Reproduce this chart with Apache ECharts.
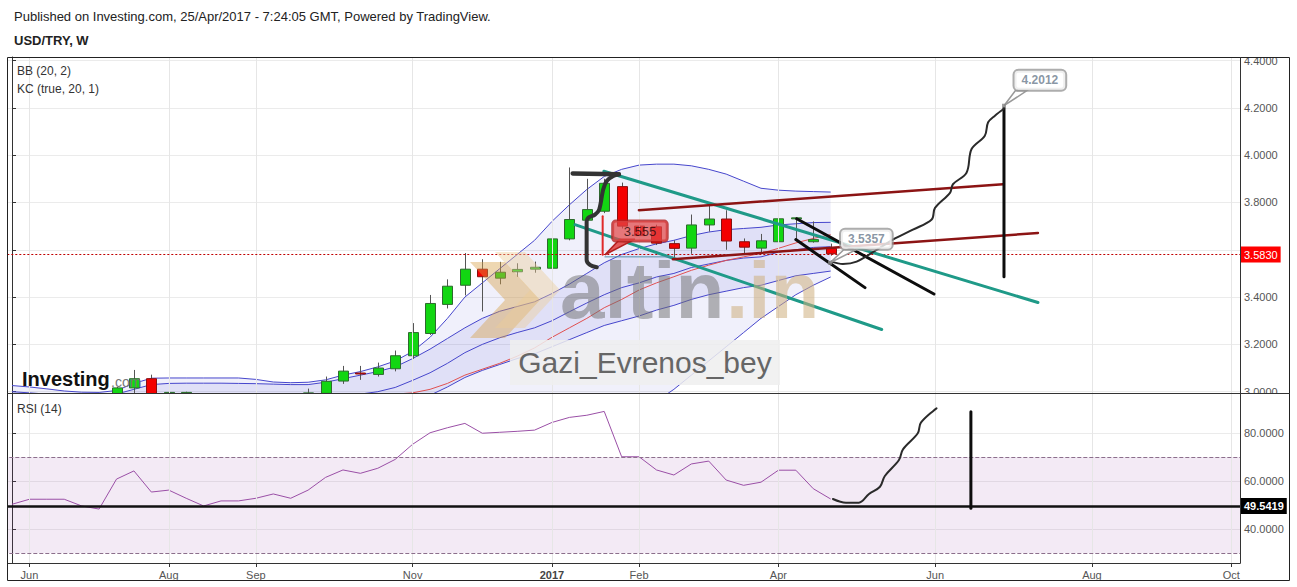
<!DOCTYPE html>
<html><head><meta charset="utf-8">
<script src="https://cdn.jsdelivr.net/npm/echarts@6/dist/echarts.min.js"></script>
<style>html,body{margin:0;padding:0;background:#fff;}#c{width:1297px;height:587px;}</style>
</head><body><div id="c"></div>
<script>
// ---------- categories (weekly bars) ----------
const weeks = ['2016-05-30','2016-06-06','2016-06-13','2016-06-20','2016-06-27','2016-07-04','2016-07-11','2016-07-18','2016-07-25',
'2016-08-01','2016-08-08','2016-08-15','2016-08-22','2016-08-29','2016-09-05','2016-09-12','2016-09-19','2016-09-26',
'2016-10-03','2016-10-10','2016-10-17','2016-10-24','2016-10-31','2016-11-07','2016-11-14','2016-11-21','2016-11-28',
'2016-12-05','2016-12-12','2016-12-19','2016-12-26','2017-01-02','2017-01-09','2017-01-16','2017-01-23','2017-01-30',
'2017-02-06','2017-02-13','2017-02-20','2017-02-27','2017-03-06','2017-03-13','2017-03-20','2017-03-27','2017-04-03',
'2017-04-10','2017-04-17','2017-04-24','2017-05-01','2017-05-08','2017-05-15','2017-05-22','2017-05-29','2017-06-05',
'2017-06-12','2017-06-19','2017-06-26','2017-07-03','2017-07-10','2017-07-17','2017-07-24','2017-07-31','2017-08-07',
'2017-08-14','2017-08-21','2017-08-28','2017-09-04','2017-09-11','2017-09-18','2017-09-25','2017-10-02'];
const monthLabels = {'2016-06-06':'Jun','2016-08-01':'Aug','2016-09-05':'Sep','2016-11-07':'Nov','2017-01-02':'2017',
'2017-02-06':'Feb','2017-04-03':'Apr','2017-06-05':'Jun','2017-08-07':'Aug','2017-10-02':'Oct'};
const priceTicks = [3.0,3.2,3.4,3.6,3.8,4.0,4.2,4.4];
const priceLabels = [3.0,3.2,3.4,3.8,4.0,4.2,4.4];   // 3.6000 sits under the last-price tag
const rsiTicks = [40,60,80];

// ---------- USD/TRY weekly OHLC ----------
const open  = [2.955,2.935,2.93,2.92,2.885,2.89,2.905,3.016,3.055,2.975,2.99,2.99,2.96,2.97,2.95,2.96,2.975,2.97,2.993,3.045,3.079,3.073,3.097,3.152,3.246,3.369,3.45,3.518,3.48,3.507,3.518,3.522,3.646,3.725,3.763,3.867,3.70,3.697,3.626,3.607,3.705,3.73,3.634,3.607,3.634,3.731,3.634,3.606];
const close = [2.935,2.93,2.92,2.885,2.885,2.905,3.016,3.055,2.975,2.997,2.997,2.96,2.97,2.95,2.96,2.975,2.97,2.995,3.044,3.087,3.076,3.10,3.152,3.25,3.373,3.446,3.518,3.486,3.505,3.517,3.526,3.646,3.728,3.77,3.881,3.70,3.66,3.628,3.606,3.705,3.73,3.637,3.611,3.638,3.731,3.735,3.643,3.583];
const low   = [2.915,2.90,2.89,2.87,2.86,2.87,2.87,2.98,2.96,2.96,2.95,2.95,2.94,2.94,2.93,2.94,2.95,2.96,2.98,3.033,3.05,3.064,3.086,3.139,3.24,3.352,3.407,3.339,3.454,3.486,3.503,3.518,3.64,3.72,3.755,3.69,3.64,3.62,3.56,3.583,3.677,3.60,3.586,3.589,3.626,3.643,3.63,3.575];
const high  = [2.965,2.96,2.945,2.95,2.92,2.93,3.02,3.092,3.072,3.026,3.0,2.99,2.985,2.98,2.975,2.985,2.99,3.013,3.064,3.109,3.109,3.123,3.174,3.29,3.409,3.475,3.586,3.56,3.549,3.543,3.55,3.65,3.948,3.90,3.90,3.884,3.77,3.706,3.64,3.749,3.794,3.767,3.648,3.667,3.749,3.737,3.72,3.626];
const lastPrice = 3.583;

// ---------- Bollinger (20,2) & Keltner (20,1) lines ----------
const bbUpper = [3.026,3.02,3.012,3.003,2.998,2.997,3.005,3.035,3.057,3.058,3.058,3.058,3.058,3.058,3.052,3.041,3.038,3.04,3.05,3.07,3.085,3.105,3.13,3.17,3.23,3.31,3.40,3.46,3.52,3.58,3.64,3.72,3.79,3.855,3.91,3.94,3.958,3.962,3.962,3.955,3.94,3.92,3.89,3.86,3.852,3.848,3.846,3.844];
const bbLower = [2.88,2.875,2.87,2.865,2.86,2.86,2.86,2.85,2.84,2.845,2.85,2.86,2.87,2.88,2.885,2.89,2.9,2.905,2.9,2.89,2.88,2.87,2.85,2.82,2.79,2.76,2.74,2.73,2.72,2.72,2.73,2.74,2.75,2.77,2.80,2.84,2.90,2.96,3.01,3.07,3.13,3.19,3.25,3.31,3.36,3.41,3.45,3.485];
const bbBasis = [2.953,2.948,2.941,2.934,2.929,2.928,2.932,2.942,2.948,2.951,2.954,2.959,2.964,2.969,2.968,2.965,2.969,2.972,2.975,2.98,2.983,2.988,2.99,2.995,3.01,3.035,3.07,3.095,3.12,3.15,3.185,3.23,3.27,3.31,3.355,3.39,3.43,3.46,3.486,3.513,3.535,3.555,3.57,3.585,3.606,3.629,3.648,3.664];
const kcUpper = [3.0,2.995,2.99,2.985,2.98,2.98,2.99,3.01,3.03,3.035,3.036,3.036,3.036,3.035,3.034,3.032,3.03,3.03,3.04,3.055,3.07,3.085,3.105,3.14,3.18,3.225,3.27,3.31,3.34,3.36,3.38,3.415,3.455,3.5,3.545,3.58,3.605,3.625,3.64,3.66,3.675,3.685,3.69,3.695,3.705,3.71,3.715,3.716];
const kcLower = [2.89,2.89,2.89,2.885,2.88,2.876,2.88,2.88,2.87,2.871,2.874,2.878,2.88,2.883,2.886,2.892,2.896,2.902,2.906,2.909,2.91,2.915,2.93,2.955,2.985,3.02,3.06,3.09,3.115,3.14,3.16,3.19,3.22,3.25,3.28,3.30,3.32,3.345,3.365,3.39,3.41,3.425,3.44,3.45,3.47,3.49,3.50,3.51];
const kcBasis = [2.945,2.943,2.94,2.935,2.93,2.928,2.935,2.945,2.95,2.953,2.955,2.957,2.958,2.959,2.96,2.962,2.963,2.966,2.973,2.982,2.99,3.0,3.018,3.048,3.08,3.12,3.165,3.2,3.228,3.25,3.27,3.30,3.338,3.375,3.41,3.44,3.46,3.485,3.50,3.525,3.54,3.555,3.565,3.57,3.59,3.60,3.61,3.613];

// ---------- RSI (14) ----------
const rsi = [50.3,52.4,52.4,52.4,49.6,48.3,60.8,64.2,55.4,56.2,52.8,49.6,51.7,51.7,52.8,54.6,52.8,56.2,61.5,64.6,63.2,65.3,69.0,75.3,80.1,82.2,84.0,79.9,80.3,80.7,81.2,84.4,86.5,87.4,89.0,70.1,70.1,64.6,62.5,67.1,68.3,60.4,58.2,59.5,64.5,64.5,56.8,52.5];
const rsiLevel = 49.5419;

// ---------- hand drawings (bar index, price) ----------
const tealLines = [[[33.98,3.932],[58.90,3.377]], [[32.32,3.706],[49.93,3.263]]];
const darkRedLines = [[[35.99,3.767],[56.89,3.877]], [[37.94,3.560],[58.90,3.671]]];
const blackLines = [[[45.05,3.731],[52.93,3.413]], [[45.0,3.643],[48.97,3.44]], [[56.95,4.199],[56.95,3.486]]];
const bracketTop = [[32.19,3.923],[34.84,3.919]];
const bracketCurve = [[34.84,3.919],[34.52,3.912],[34.14,3.891],[33.94,3.855],[33.71,3.770],[33.47,3.749],[33.08,3.735],[32.99,3.720],[32.99,3.557],[33.18,3.536],[33.57,3.526]];
const redMarker = [[33.91,3.742],[33.91,3.579]];
const thinLevel = [[34.04,3.570],[37.94,3.570]];
const wavyPath = [[47.05,3.550],[47.70,3.540],[48.49,3.550],[49.64,3.600],[50.57,3.643],[51.72,3.685],[52.80,3.728],[52.99,3.777],[53.85,3.841],[54.02,3.877],[54.80,3.926],[55.09,4.026],[55.85,4.082],[56.04,4.139],[56.43,4.167],[56.95,4.196]];
const rsiCurve = [[47.13,52.5],[47.88,50.96],[48.62,50.96],[49.20,54.6],[49.83,57.6],[50.11,62.1],[50.92,68.75],[51.15,73.2],[52.0,79.9],[52.18,84.3],[53.08,90.3]];
const rsiVertical = [[55.05,88.9],[55.05,48.6]];
const callouts = [
  {text:'4.2012', pos:[59.01,4.317], anchor:[56.95,4.209], base:[[57.60,4.272],[58.25,4.272]]},
  {text:'3.5357', pos:[49.05,3.645], anchor:[46.96,3.545], base:[[47.75,3.60],[48.45,3.60]]}
];
const redCallout = {text:'3.555', pos:[36.05,3.679], anchor:[34.04,3.579], base:[[34.90,3.645],[35.76,3.645]]};

// ---------- build ----------
const FONT = 'Liberation Sans, Arial, sans-serif';
const chart = echarts.init(document.getElementById('c'), null, {renderer:'svg', width:1297, height:587});
const ohlc = open.map((o,i)=>[i, o, close[i], low[i], high[i]]);
const diff = (a,b)=>a.map((v,i)=>+(v-b[i]).toFixed(4));
const monthIdx = weeks.map((w,i)=>monthLabels[w]?i:-1).filter(i=>i>=0);
const isMonth = (i,v)=>!!monthLabels[v];
const allCallouts = [...callouts, redCallout];

const L = {type:'line', symbol:'none', silent:true, animation:false, xAxisIndex:0, yAxisIndex:0};
function draw(data, color, width, extra){
  return Object.assign({type:'line', xAxisIndex:2, yAxisIndex:0, symbol:'none', silent:true, animation:false,
    data:data, lineStyle:{color:color, width:width, cap:'round', join:'round'}, z:6}, extra||{});
}
const series = [
  // vertical grid lines
  {type:'line', xAxisIndex:2, yAxisIndex:0, data:[], silent:true, z:0,
   markLine:{symbol:'none', silent:true, animation:false, label:{show:false}, lineStyle:{color:'#e6e6e6', width:1, type:'solid'},
     data: monthIdx.map(i=>({xAxis:i}))}},
  {type:'line', xAxisIndex:3, yAxisIndex:1, data:[], silent:true, z:0,
   markLine:{symbol:'none', silent:true, animation:false, label:{show:false}, lineStyle:{color:'#e6e6e6', width:1, type:'solid'},
     data: monthIdx.map(i=>({xAxis:i}))}},
  // band fills
  {...L, stack:'bb', data:bbLower, lineStyle:{opacity:0}, z:1},
  {...L, stack:'bb', data:diff(bbUpper,bbLower), lineStyle:{opacity:0}, areaStyle:{color:'rgba(70,70,210,0.12)'}, z:1},
  {...L, stack:'kc', data:kcLower, lineStyle:{opacity:0}, z:1},
  {...L, stack:'kc', data:diff(kcUpper,kcLower), lineStyle:{opacity:0}, areaStyle:{color:'rgba(70,70,210,0.13)'}, z:1},
  // band lines
  {...L, data:bbUpper, lineStyle:{color:'#4646cc', width:1}, z:2},
  {...L, data:bbLower, lineStyle:{color:'#4646cc', width:1}, z:2},
  {...L, data:kcUpper, lineStyle:{color:'#4646cc', width:1}, z:2},
  {...L, data:kcLower, lineStyle:{color:'#4646cc', width:1}, z:2},
  {...L, data:kcBasis, lineStyle:{color:'#4646cc', width:1}, z:2},
  {...L, data:bbBasis, lineStyle:{color:'#e05050', width:1}, z:2},
  // candles (custom so that partly-hidden bars are clipped to the pane)
  {type:'custom', xAxisIndex:0, yAxisIndex:0, clip:true, silent:true, animation:false, z:4,
   data:ohlc, encode:{x:0, y:[1,2,3,4]},
   renderItem:function(params, api){
     const i=api.value(0), o=api.value(1), c=api.value(2), l=api.value(3), h=api.value(4);
     const pO=api.coord([i,o]), pC=api.coord([i,c]), pL=api.coord([i,l]), pH=api.coord([i,h]);
     const x=Math.round(pO[0]); const up=c>=o;
     const top=Math.min(pO[1],pC[1]), hgt=Math.max(1,Math.abs(pO[1]-pC[1]));
     return {type:'group', children:[
       {type:'line', shape:{x1:x+0.5,y1:pH[1],x2:x+0.5,y2:pL[1]}, style:{stroke:'#555', lineWidth:1}},
       {type:'rect', shape:{x:x-4.5, y:top, width:10, height:hgt},
        style:{fill:up?'#12d612':'#f40000', stroke:up?'#2f6a2f':'#8a1010', lineWidth:1}}
     ]};
   }},
  // last price line
  {type:'line', xAxisIndex:0, yAxisIndex:0, data:[], silent:true, z:5,
   markLine:{symbol:'none', silent:true, animation:false,
     lineStyle:{color:'#c00000', width:1, type:[2,2]},
     label:{show:true, position:'end', distance:1, formatter:lastPrice.toFixed(4), backgroundColor:'#ff0000', color:'#fff',
       fontFamily:FONT, fontSize:11, padding:[3,3,2,3]},
     data:[{yAxis:lastPrice}]}},
  // RSI
  {type:'line', xAxisIndex:1, yAxisIndex:1, data:rsi, symbol:'none', silent:true, animation:false,
   lineStyle:{color:'#9a4fa6', width:1}, z:3,
   markArea:{silent:true, itemStyle:{color:'rgba(150,60,160,0.11)'}, data:[[{yAxis:30},{yAxis:70}]]},
   markLine:{symbol:'none', silent:true, animation:false, label:{show:false},
     data:[
       {yAxis:70, lineStyle:{color:'#8c6f8c', width:1, type:[4,2]}},
       {yAxis:30, lineStyle:{color:'#8c6f8c', width:1, type:[4,2]}},
       {yAxis:rsiLevel, lineStyle:{color:'#111', width:2.5, type:'solid'},
        label:{show:true, position:'end', distance:1, formatter:rsiLevel.toFixed(4), backgroundColor:'#000', color:'#fff',
          fontFamily:FONT, fontSize:11, fontWeight:'bold', padding:[3,3,2,3]}}
     ]}},
  // drawings
  ...tealLines.map(d=>draw(d,'#1f9a88',3)),
  ...darkRedLines.map(d=>draw(d,'#8c1414',2.5)),
  ...blackLines.map(d=>draw(d,'#0d0d0d',3)),
  draw(bracketTop,'#333',4.5),
  draw(bracketCurve,'#333',4,{smooth:0.3}),
  draw(redMarker,'#e02a2a',2),
  draw(thinLevel,'#4f8fa8',1),
  draw(wavyPath,'#2a2a2a',2,{smooth:0.35}),
  draw(rsiCurve,'#2a2a2a',2,{xAxisIndex:3, yAxisIndex:1, smooth:0.35}),
  draw(rsiVertical,'#0d0d0d',3,{xAxisIndex:3, yAxisIndex:1}),
  // callout pointers
  {type:'custom', xAxisIndex:2, yAxisIndex:0, silent:true, animation:false, z:8,
   data:allCallouts.map(c=>c.anchor),
   renderItem:function(params, api){
     const c=allCallouts[params.dataIndex];
     const pts=[api.coord(c.base[0]), api.coord(c.anchor), api.coord(c.base[1])];
     const isRed = c===redCallout;
     return {type:'polygon', shape:{points:pts}, style:{fill:isRed?'rgba(226,72,72,0.9)':'#fff', stroke:isRed?'#b32020':'#999', lineWidth:1.5}};
   }},
  {type:'scatter', xAxisIndex:2, yAxisIndex:0, silent:true, animation:false, z:9, symbol:'rect', symbolSize:4,
   itemStyle:{color:'#888'}, data:callouts.map(c=>c.anchor)},
  {type:'scatter', xAxisIndex:2, yAxisIndex:0, silent:true, animation:false, z:10, symbolSize:1, itemStyle:{color:'rgba(0,0,0,0)'},
   data:callouts.map(c=>({value:c.pos, label:{show:true, position:'inside', formatter:c.text, backgroundColor:'#fff',
     borderColor:'#999', borderWidth:2, borderRadius:4, padding:[4,7,3,7], color:'#6a7a8c', fontWeight:'bold', fontSize:12, fontFamily:FONT}}))
     .concat([{value:redCallout.pos, label:{show:true, position:'inside', formatter:redCallout.text, backgroundColor:'rgba(226,72,72,0.9)',
     borderColor:'#b32020', borderWidth:1.5, borderRadius:3, padding:[4,11,3,11], color:'#2a0808', fontSize:13, fontFamily:FONT}}])}
];

const option = {
  animation:false,
  backgroundColor:'#fff',
  grid:[
    {left:3.3, right:57, top:57, height:336, containLabel:false},
    {left:3.3, right:57, top:393, height:170, containLabel:false}
  ],
  xAxis:[
    {type:'category', gridIndex:0, data:weeks, boundaryGap:true, axisLine:{show:false}, axisTick:{show:false}, axisLabel:{show:false}, splitLine:{show:false}},
    {type:'category', gridIndex:1, data:weeks, boundaryGap:true,
      axisLine:{show:true, lineStyle:{color:'#333'}},
      axisTick:{show:true, interval:isMonth, alignWithLabel:true, length:4, lineStyle:{color:'#333'}},
      axisLabel:{show:true, interval:isMonth, margin:6, color:'#555', fontSize:11, fontFamily:FONT,
        formatter:v=>monthLabels[v]==='2017'?'{b|2017}':(monthLabels[v]||''), rich:{b:{fontWeight:'bold', color:'#444', fontSize:11, fontFamily:FONT}}},
      splitLine:{show:false}},
    {type:'value', gridIndex:0, min:-0.5, max:70.5, show:false},
    {type:'value', gridIndex:1, min:-0.5, max:70.5, show:false}
  ],
  yAxis:[
    {type:'value', gridIndex:0, position:'right', min:2.9945, max:4.415,
      axisLine:{show:true, lineStyle:{color:'#333'}},
      axisTick:{show:true, length:4, customValues:priceTicks, lineStyle:{color:'#333'}},
      axisLabel:{show:true, customValues:priceLabels, margin:4, color:'#555', fontSize:11, fontFamily:FONT, formatter:v=>v.toFixed(4)},
      splitLine:{show:true, lineStyle:{color:'#ebebeb'}}},
    {type:'value', gridIndex:1, position:'right', min:25.83, max:96.67,
      axisLine:{show:true, lineStyle:{color:'#333'}},
      axisTick:{show:true, length:4, customValues:rsiTicks, lineStyle:{color:'#333'}},
      axisLabel:{show:true, customValues:rsiTicks, margin:4, color:'#555', fontSize:11, fontFamily:FONT, formatter:v=>v.toFixed(4)},
      splitLine:{show:true, lineStyle:{color:'#ebebeb'}}}
  ],
  graphic:[
    {type:'text', left:14, top:10, silent:true, style:{text:'Published on Investing.com, 25/Apr/2017 - 7:24:05 GMT, Powered by TradingView.', fill:'#222', font:'13px '+FONT}},
    {type:'text', left:14, top:34, silent:true, style:{text:'USD/TRY, W', fill:'#222', font:'bold 13px '+FONT}},
    {type:'text', left:17, top:65, silent:true, z:60, style:{text:'BB (20, 2)', fill:'#333', font:'12px '+FONT}},
    {type:'text', left:17, top:83, silent:true, z:60, style:{text:'KC (true, 20, 1)', fill:'#333', font:'12px '+FONT}},
    {type:'text', left:17, top:403, silent:true, z:60, style:{text:'RSI (14)', fill:'#333', font:'12px '+FONT}},
    // watermarks
    {type:'polygon', silent:true, z:20, shape:{points:[[470,262],[505,262],[540,300],[505,338],[470,338],[505,300]]}, style:{fill:'rgba(214,160,70,0.42)'}},
    {type:'polygon', silent:true, z:20, shape:{points:[[495,252],[525,252],[560,290],[525,328],[495,328],[530,290]]}, style:{fill:'rgba(235,205,150,0.42)'}},
    {type:'text', x:560, y:330, silent:true, z:20, style:{text:'altin', fill:'rgba(110,110,110,0.5)', font:'bold 80px '+FONT, textVerticalAlign:'bottom'}},
    {type:'text', x:726, y:330, silent:true, z:20, style:{text:'.in', fill:'rgba(205,175,125,0.55)', font:'bold 80px '+FONT, textVerticalAlign:'bottom'}},
    {type:'rect', silent:true, z:20, shape:{x:510, y:340, width:270, height:45}, style:{fill:'rgba(238,238,238,0.85)'}},
    {type:'text', x:645, y:362, silent:true, z:21, style:{text:'Gazi_Evrenos_bey', fill:'#666', font:'30px '+FONT, textAlign:'center', textVerticalAlign:'middle'}},
    {type:'text', x:22, y:389, silent:true, z:21, style:{text:'Investing', fill:'#111', font:'bold 20px '+FONT, textVerticalAlign:'bottom'}},
    {type:'text', x:111, y:389, silent:true, z:21, style:{text:'.com', fill:'#777', font:'14px '+FONT, textVerticalAlign:'bottom'}},
    // masks (clip overflow outside frame)
    {type:'rect', silent:true, z:90, shape:{x:0, y:50, width:7, height:540}, style:{fill:'#fff'}},
    {type:'rect', silent:true, z:90, shape:{x:1241, y:44, width:48, height:14}, style:{fill:'#fff'}},
    {type:'rect', silent:true, z:90, shape:{x:1241, y:393.5, width:48, height:8}, style:{fill:'#fff'}},
    {type:'rect', silent:true, z:90, shape:{x:1240.5, y:564, width:48.5, height:16}, style:{fill:'#fff'}},
    // frame
    {type:'rect', silent:true, z:100, shape:{x:7.5, y:57.5, width:1282, height:523}, style:{fill:'none', stroke:'#222', lineWidth:1}},
    {type:'line', silent:true, z:100, shape:{x1:1240.5, y1:57, x2:1240.5, y2:563.5}, style:{stroke:'#333', lineWidth:1}},
    {type:'line', silent:true, z:100, shape:{x1:7, y1:393.5, x2:1290, y2:393.5}, style:{stroke:'#333', lineWidth:1}}
  ],
  series: series
};
chart.setOption(option);
</script></body></html>
